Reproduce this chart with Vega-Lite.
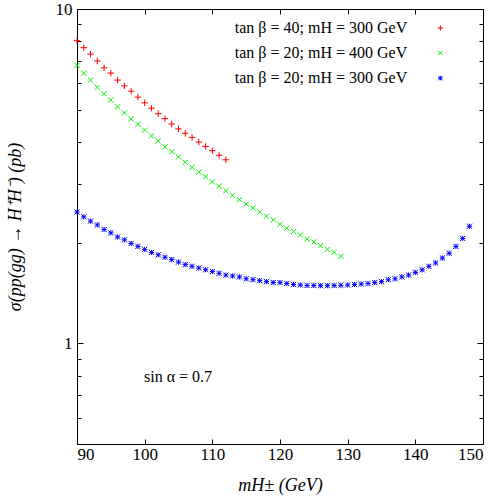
{
  "$schema": "https://vega.github.io/schema/vega-lite/v6.json",
  "width": 406,
  "height": 435,
  "autosize": {"type": "none"},
  "padding": {"left": 77, "top": 9, "right": 19, "bottom": 54},
  "background": "white",
  "config": {
    "view": {"stroke": "black", "strokeWidth": 1},
    "font": "Liberation Serif",
    "axis": {
      "labelFont": "Liberation Serif",
      "labelFontSize": 17,
      "labelColor": "black",
      "titleFont": "Liberation Serif",
      "titleFontSize": 18,
      "titleFontWeight": "normal",
      "titleColor": "black",
      "tickColor": "black",
      "tickWidth": 1,
      "domain": false,
      "grid": false
    }
  },
  "datasets": {
    "pts": [
      {"s": "a", "x": 90, "y": 8.04}, {"s": "a", "x": 91, "y": 7.66}, {"s": "a", "x": 92, "y": 7.33}, {"s": "a", "x": 93, "y": 6.99},
      {"s": "a", "x": 94, "y": 6.67}, {"s": "a", "x": 95, "y": 6.43}, {"s": "a", "x": 96, "y": 6.13}, {"s": "a", "x": 97, "y": 5.89},
      {"s": "a", "x": 98, "y": 5.68}, {"s": "a", "x": 99, "y": 5.45}, {"s": "a", "x": 100, "y": 5.24}, {"s": "a", "x": 101, "y": 5.05},
      {"s": "a", "x": 102, "y": 4.86}, {"s": "a", "x": 103, "y": 4.70}, {"s": "a", "x": 104, "y": 4.53}, {"s": "a", "x": 105, "y": 4.38},
      {"s": "a", "x": 106, "y": 4.25}, {"s": "a", "x": 107, "y": 4.13}, {"s": "a", "x": 108, "y": 4.00}, {"s": "a", "x": 109, "y": 3.88},
      {"s": "a", "x": 110, "y": 3.77}, {"s": "a", "x": 111, "y": 3.65}, {"s": "a", "x": 112, "y": 3.54},
      {"s": "b", "x": 90, "y": 6.78}, {"s": "b", "x": 91, "y": 6.43}, {"s": "b", "x": 92, "y": 6.13}, {"s": "b", "x": 93, "y": 5.83},
      {"s": "b", "x": 94, "y": 5.58}, {"s": "b", "x": 95, "y": 5.34}, {"s": "b", "x": 96, "y": 5.10}, {"s": "b", "x": 97, "y": 4.89},
      {"s": "b", "x": 98, "y": 4.69}, {"s": "b", "x": 99, "y": 4.52}, {"s": "b", "x": 100, "y": 4.34}, {"s": "b", "x": 101, "y": 4.17},
      {"s": "b", "x": 102, "y": 4.03}, {"s": "b", "x": 103, "y": 3.87}, {"s": "b", "x": 104, "y": 3.74}, {"s": "b", "x": 105, "y": 3.61},
      {"s": "b", "x": 106, "y": 3.48}, {"s": "b", "x": 107, "y": 3.36}, {"s": "b", "x": 108, "y": 3.25}, {"s": "b", "x": 109, "y": 3.15},
      {"s": "b", "x": 110, "y": 3.04}, {"s": "b", "x": 111, "y": 2.95}, {"s": "b", "x": 112, "y": 2.86}, {"s": "b", "x": 113, "y": 2.77},
      {"s": "b", "x": 114, "y": 2.69}, {"s": "b", "x": 115, "y": 2.61}, {"s": "b", "x": 116, "y": 2.54}, {"s": "b", "x": 117, "y": 2.47},
      {"s": "b", "x": 118, "y": 2.40}, {"s": "b", "x": 119, "y": 2.34}, {"s": "b", "x": 120, "y": 2.27}, {"s": "b", "x": 121, "y": 2.21},
      {"s": "b", "x": 122, "y": 2.16}, {"s": "b", "x": 123, "y": 2.11}, {"s": "b", "x": 124, "y": 2.05}, {"s": "b", "x": 125, "y": 2.01},
      {"s": "b", "x": 126, "y": 1.96}, {"s": "b", "x": 127, "y": 1.91}, {"s": "b", "x": 128, "y": 1.87}, {"s": "b", "x": 129, "y": 1.82},
      {"s": "c", "x": 90, "y": 2.47}, {"s": "c", "x": 91, "y": 2.39}, {"s": "c", "x": 92, "y": 2.32}, {"s": "c", "x": 93, "y": 2.26},
      {"s": "c", "x": 94, "y": 2.19}, {"s": "c", "x": 95, "y": 2.14}, {"s": "c", "x": 96, "y": 2.08}, {"s": "c", "x": 97, "y": 2.04},
      {"s": "c", "x": 98, "y": 1.99}, {"s": "c", "x": 99, "y": 1.95}, {"s": "c", "x": 100, "y": 1.91}, {"s": "c", "x": 101, "y": 1.87},
      {"s": "c", "x": 102, "y": 1.84}, {"s": "c", "x": 103, "y": 1.81}, {"s": "c", "x": 104, "y": 1.78}, {"s": "c", "x": 105, "y": 1.75},
      {"s": "c", "x": 106, "y": 1.72}, {"s": "c", "x": 107, "y": 1.70}, {"s": "c", "x": 108, "y": 1.68}, {"s": "c", "x": 109, "y": 1.66},
      {"s": "c", "x": 110, "y": 1.64}, {"s": "c", "x": 111, "y": 1.62}, {"s": "c", "x": 112, "y": 1.60}, {"s": "c", "x": 113, "y": 1.59},
      {"s": "c", "x": 114, "y": 1.58}, {"s": "c", "x": 115, "y": 1.56}, {"s": "c", "x": 116, "y": 1.55}, {"s": "c", "x": 117, "y": 1.54},
      {"s": "c", "x": 118, "y": 1.53}, {"s": "c", "x": 119, "y": 1.52}, {"s": "c", "x": 120, "y": 1.52}, {"s": "c", "x": 121, "y": 1.51},
      {"s": "c", "x": 122, "y": 1.50}, {"s": "c", "x": 123, "y": 1.495}, {"s": "c", "x": 124, "y": 1.49}, {"s": "c", "x": 125, "y": 1.49},
      {"s": "c", "x": 126, "y": 1.488}, {"s": "c", "x": 127, "y": 1.488}, {"s": "c", "x": 128, "y": 1.49}, {"s": "c", "x": 129, "y": 1.492},
      {"s": "c", "x": 130, "y": 1.495}, {"s": "c", "x": 131, "y": 1.50}, {"s": "c", "x": 132, "y": 1.505}, {"s": "c", "x": 133, "y": 1.51},
      {"s": "c", "x": 134, "y": 1.52}, {"s": "c", "x": 135, "y": 1.53}, {"s": "c", "x": 136, "y": 1.55}, {"s": "c", "x": 137, "y": 1.56},
      {"s": "c", "x": 138, "y": 1.58}, {"s": "c", "x": 139, "y": 1.60}, {"s": "c", "x": 140, "y": 1.63}, {"s": "c", "x": 141, "y": 1.66},
      {"s": "c", "x": 142, "y": 1.70}, {"s": "c", "x": 143, "y": 1.74}, {"s": "c", "x": 144, "y": 1.80}, {"s": "c", "x": 145, "y": 1.86},
      {"s": "c", "x": 146, "y": 1.95}, {"s": "c", "x": 147, "y": 2.06}, {"s": "c", "x": 148, "y": 2.24}
    ],
    "leg": [
      {"s": "a", "label": "tan β = 40; mH = 300 GeV", "tx": 138.8, "mx": 143.7, "y": 8.77},
      {"s": "b", "label": "tan β = 20; mH = 400 GeV", "tx": 138.8, "mx": 143.7, "y": 7.39},
      {"s": "c", "label": "tan β = 20; mH = 300 GeV", "tx": 138.8, "mx": 143.7, "y": 6.21}
    ],
    "note": [
      {"label": "sin α = 0.7", "x": 99.9, "y": 0.795}
    ]
  },
  "layer": [
    {
      "data": {"name": "pts"},
      "mark": {"type": "point", "filled": false, "strokeWidth": 1, "opacity": 1, "size": 42},
      "encoding": {
        "x": {
          "field": "x", "type": "quantitative",
          "scale": {"domain": [90, 150], "nice": false, "zero": false},
          "axis": {
            "orient": "bottom",
            "values": [90, 100, 110, 120, 130, 140, 150],
            "tickSize": -5,
            "labelPadding": 7,
            "title": "mH± (GeV)",
            "titleFontStyle": "italic",
            "titlePadding": 14
          }
        },
        "y": {
          "field": "y", "type": "quantitative",
          "scale": {"type": "log", "domain": [0.5, 10], "nice": false},
          "axis": {
            "orient": "left",
            "values": [0.5, 0.6, 0.7, 0.8, 0.9, 1, 2, 3, 4, 5, 6, 7, 8, 9, 10],
            "tickSize": {"condition": {"test": "datum.value == 1 || datum.value == 10", "value": -6}, "value": -4},
            "labelExpr": "datum.value == 1 || datum.value == 10 ? datum.label : ''",
            "labelPadding": 11,
            "title": "σ(pp(gg) → H⁺H⁻) (pb)",
            "titleFontStyle": "italic",
            "titlePadding": 31
          }
        },
        "color": {
          "field": "s", "type": "nominal",
          "scale": {"domain": ["a", "b", "c"], "range": ["#ff0000", "#00ee00", "#0000ff"]},
          "legend": null
        },
        "shape": {
          "field": "s", "type": "nominal",
          "scale": {"domain": ["a", "b", "c"], "range": ["M-1,0H1M0,-1V1", "M-0.8,-0.8L0.8,0.8M-0.8,0.8L0.8,-0.8", "M-0.8,0H0.8M0,-0.8V0.8M-0.8,-0.8L0.8,0.8M-0.8,0.8L0.8,-0.8"]},
          "legend": null
        }
      }
    },
    {
      "data": {"name": "pts"},
      "mark": {"type": "point", "opacity": 0},
      "encoding": {
        "x": {
          "field": "x", "type": "quantitative",
          "axis": {"orient": "top", "values": [90, 100, 110, 120, 130, 140, 150], "tickSize": -5, "labels": false, "title": null}
        },
        "y": {
          "field": "y", "type": "quantitative",
          "axis": {
            "orient": "right",
            "values": [0.5, 0.6, 0.7, 0.8, 0.9, 1, 2, 3, 4, 5, 6, 7, 8, 9, 10],
            "tickSize": {"condition": {"test": "datum.value == 1 || datum.value == 10", "value": -6}, "value": -4},
            "labels": false,
            "title": null
          }
        }
      }
    },
    {
      "data": {"name": "leg"},
      "mark": {"type": "point", "filled": false, "strokeWidth": 1, "opacity": 1, "size": 30},
      "encoding": {
        "x": {"field": "mx", "type": "quantitative", "axis": null},
        "y": {"field": "y", "type": "quantitative", "axis": null},
        "color": {"field": "s", "type": "nominal", "legend": null},
        "shape": {"field": "s", "type": "nominal", "legend": null}
      }
    },
    {
      "data": {"name": "leg"},
      "mark": {"type": "text", "align": "right", "baseline": "middle", "fontSize": 16, "font": "Liberation Serif", "color": "black"},
      "encoding": {
        "x": {"field": "tx", "type": "quantitative", "axis": null},
        "y": {"field": "y", "type": "quantitative", "axis": null},
        "text": {"field": "label"}
      }
    },
    {
      "data": {"name": "note"},
      "mark": {"type": "text", "align": "left", "baseline": "middle", "fontSize": 16, "font": "Liberation Serif", "color": "black"},
      "encoding": {
        "x": {"field": "x", "type": "quantitative", "axis": null},
        "y": {"field": "y", "type": "quantitative", "axis": null},
        "text": {"field": "label"}
      }
    }
  ],
  "resolve": {"axis": {"x": "independent", "y": "independent"}}
}
